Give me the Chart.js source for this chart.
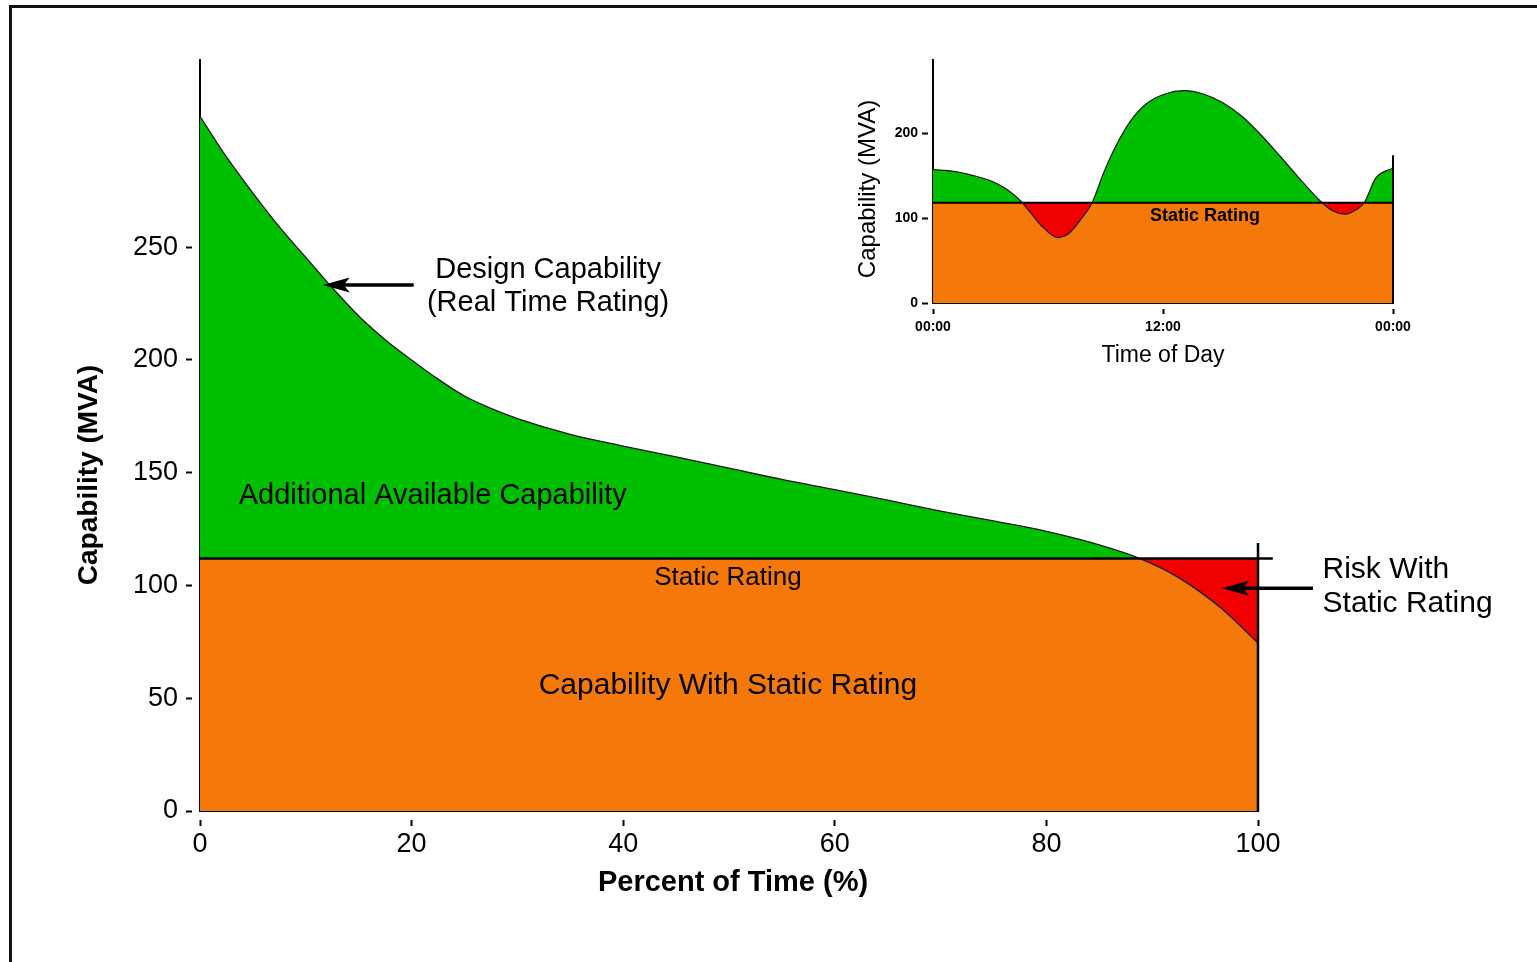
<!DOCTYPE html>
<html><head><meta charset="utf-8">
<script src="https://cdn.jsdelivr.net/npm/chart.js@4"></script>
<style>
html,body{margin:0;padding:0;background:#fff;}
#wrap{position:relative;width:1537px;height:962px;overflow:hidden;background:#fff;}
#frame{position:absolute;left:9px;top:5px;width:1600px;height:1000px;border-top:3px solid #111;border-left:3px solid #111;}
canvas{position:absolute;left:0;top:0;}
</style></head><body>
<div id="wrap"><div id="frame"></div>
<canvas id="main" width="1537" height="962"></canvas>
<canvas id="inset" width="1537" height="962"></canvas>
</div>
<script>
// ---------- main chart data ----------
const pctTime   = [0, 2.5, 5, 7.5, 10, 12.5, 15, 17.5, 20, 22.5, 25, 27.5, 30, 35, 40, 45, 50, 55, 60, 65, 70, 75, 80, 85, 88.8, 92.5, 96.5, 100];
const designCap = [308, 290, 274, 259, 245.5, 232, 219.5, 209, 200, 191.5, 184, 178.5, 174, 167, 161.8, 157, 152, 147, 142.5, 137.8, 133, 128.6, 124, 118, 112, 103.5, 90, 74.5];
const staticRating = 112;
const xTicks = [0, 20, 40, 60, 80, 100];
const yTicks = [0, 50, 100, 150, 200, 250];

// ---------- inset data ----------
const hourOfDay = [0, 1.1, 2.1, 3.1, 3.9, 4.6, 5.1, 5.7, 6.5, 7.1, 7.7, 8.3, 8.9, 9.5, 10.3, 11.1, 12.1, 13.1, 14.1, 15.1, 16.1, 17.1, 18.1, 19.1, 20.3, 20.9, 21.5, 22.1, 22.5, 23.1, 24];
const dailyCap  = [157, 155, 150, 143, 133, 119.5, 106, 90, 77, 82, 98, 118, 153, 183, 214, 234, 246, 250, 246, 236, 220, 198, 173, 147, 118, 108, 104.5, 110, 118, 147, 159];
const insetStatic = 118;
const timeTicks = [0, 12, 24];
const timeLabels = ['00:00', '12:00', '00:00'];
const insetYTicks = [0, 100, 200];

const FAM = "'Liberation Sans', Arial, Helvetica, sans-serif";
const GREEN = '#00be00', ORANGE = '#f5780a', RED = '#f00000';

function pts(xs, ys) { return xs.map((x, i) => ({x: x, y: ys[i]})); }

function text(ctx, str, x, y, font, align) {
  ctx.save();
  ctx.font = font; ctx.fillStyle = '#000';
  ctx.textAlign = align || 'center'; ctx.textBaseline = 'middle';
  ctx.fillText(str, x, y);
  ctx.restore();
}
function vtext(ctx, str, x, y, font) {
  ctx.save();
  ctx.translate(x, y); ctx.rotate(-Math.PI / 2);
  ctx.font = font; ctx.fillStyle = '#000';
  ctx.textAlign = 'center'; ctx.textBaseline = 'middle';
  ctx.fillText(str, 0, 0);
  ctx.restore();
}
function arrowLeft(ctx, tailX, tipX, y) {
  ctx.save();
  ctx.strokeStyle = '#000'; ctx.fillStyle = '#000'; ctx.lineWidth = 3.5;
  ctx.beginPath(); ctx.moveTo(tailX, y); ctx.lineTo(tipX + 18, y); ctx.stroke();
  ctx.beginPath();
  ctx.moveTo(tipX, y);
  ctx.lineTo(tipX + 27, y - 7.5);
  ctx.lineTo(tipX + 21, y);
  ctx.lineTo(tipX + 27, y + 7.5);
  ctx.closePath(); ctx.fill();
  ctx.restore();
}

function makeTicks(arr) { return s => { s.ticks = arr.map(v => ({value: v})); }; }

const mainNotes = {
  id: 'mainNotes',
  afterDatasetsDraw(chart) {
    const ctx = chart.ctx, xs = chart.scales.x, ys = chart.scales.y;
    const X = v => xs.getPixelForValue(v), Y = v => ys.getPixelForValue(v);
    const f = '29px ' + FAM;
    text(ctx, 'Design Capability', X(32.9), Y(239.8), f);
    text(ctx, '(Real Time Rating)', X(32.9), Y(225.2), f);
    arrowLeft(ctx, X(20.2), X(11.6), Y(233.2));
    text(ctx, 'Additional Available Capability', X(22.0), Y(139.6), f);
    text(ctx, 'Static Rating', X(49.9), Y(103.3), '26px ' + FAM);
    text(ctx, 'Capability With Static Rating', X(49.9), Y(55.4), '30px ' + FAM);
    text(ctx, 'Risk With', X(106.1), Y(106.8), '30px ' + FAM, 'left');
    text(ctx, 'Static Rating', X(106.1), Y(91.8), '30px ' + FAM, 'left');
    arrowLeft(ctx, X(105.2), X(96.6), Y(98.8));
    const ca = chart.chartArea;
    vtext(ctx, 'Capability (MVA)', ca.left - 111, 475, 'bold 28px ' + FAM);
    text(ctx, 'Percent of Time (%)', (ca.left + ca.right) / 2 + 4, 883, 'bold 29px ' + FAM);
  }
};

new Chart(document.getElementById('main'), {
  type: 'line',
  data: {
    datasets: [
      {label: 'Capability With Static Rating', data: pts(pctTime, designCap), fill: 'origin',
       backgroundColor: ORANGE, borderWidth: 0, pointRadius: 0, order: 3},
      {label: 'Design Capability', data: pts(pctTime, designCap),
       fill: {target: {value: staticRating}, above: GREEN, below: RED},
       borderColor: '#1a1a1a', borderWidth: 1.3, pointRadius: 0, order: 2},
      {label: 'Static Rating', data: pts([0, 101.4], [staticRating, staticRating]), fill: false,
       borderColor: '#000', borderWidth: 2.5, pointRadius: 0, clip: false, order: 1},
      {label: 'edge', data: pts([100, 100], [0, 118.8]), fill: false,
       borderColor: '#000', borderWidth: 2.5, pointRadius: 0, clip: false, order: 0}
    ]
  },
  options: {
    responsive: false, animation: false,
    layout: {padding: {left: 0, top: 60, right: 279, bottom: 0}},
    plugins: {legend: {display: false}, tooltip: {enabled: false}},
    elements: {line: {cubicInterpolationMode: 'monotone'}},
    scales: {
      x: {type: 'linear', min: 0, max: 100, afterBuildTicks: makeTicks(xTicks), afterFit: s => { s.height = 151; },
          ticks: {font: {family: FAM, size: 27}, color: '#000', padding: 2, maxRotation: 0, autoSkip: false},
          grid: {drawOnChartArea: false, tickLength: 15, tickWidth: 2, tickColor: '#000', tickBorderDash: [0, 8, 7, 100]},
          border: {display: true, color: '#000', width: 2}},
      y: {type: 'linear', min: 0, max: 333, afterBuildTicks: makeTicks(yTicks), afterFit: s => { s.width = 200; },
          ticks: {font: {family: FAM, size: 27}, color: '#000', padding: 8, autoSkip: false},
          grid: {drawOnChartArea: false, tickLength: 14, tickWidth: 2, tickColor: '#000', tickBorderDash: [6, 8]},
          border: {display: true, color: '#000', width: 2}}
    }
  },
  plugins: [mainNotes]
});

// ---------- inset ----------
const insetNotes = {
  id: 'insetNotes',
  afterDatasetsDraw(chart) {
    const ctx = chart.ctx, xs = chart.scales.x, ys = chart.scales.y;
    text(ctx, 'Static Rating', xs.getPixelForValue(14.19), ys.getPixelForValue(102), 'bold 18px ' + FAM);
    const ca = chart.chartArea;
    vtext(ctx, 'Capability (MVA)', ca.left - 65, 189, '24px ' + FAM);
    text(ctx, 'Time of Day', (ca.left + ca.right) / 2, 356, '23px ' + FAM);
  }
};

new Chart(document.getElementById('inset'), {
  type: 'line',
  data: {
    datasets: [
      {label: 'base', data: pts(hourOfDay, dailyCap), fill: 'origin', backgroundColor: ORANGE,
       borderWidth: 0, pointRadius: 0, order: 3},
      {label: 'Capability', data: pts(hourOfDay, dailyCap),
       fill: {target: {value: insetStatic}, above: GREEN, below: RED},
       borderColor: '#1a1a1a', borderWidth: 1.2, pointRadius: 0, order: 2},
      {label: 'Static Rating', data: pts([0, 24], [insetStatic, insetStatic]), fill: false,
       borderColor: '#000', borderWidth: 2, pointRadius: 0, clip: false, order: 1},
      {label: 'edge', data: pts([24, 24], [0, 174]), fill: false,
       borderColor: '#000', borderWidth: 2, pointRadius: 0, clip: false, order: 0}
    ]
  },
  options: {
    responsive: false, animation: false,
    layout: {padding: {left: 853, top: 60, right: 144, bottom: 589}},
    plugins: {legend: {display: false}, tooltip: {enabled: false}},
    elements: {line: {cubicInterpolationMode: 'monotone'}},
    scales: {
      x: {type: 'linear', min: 0, max: 24, afterBuildTicks: makeTicks(timeTicks), afterFit: s => { s.height = 70; },
          ticks: {font: {family: FAM, size: 14, weight: 'bold'}, color: '#000', padding: 5, maxRotation: 0, autoSkip: false,
                  callback: v => timeLabels[timeTicks.indexOf(v)]},
          grid: {drawOnChartArea: false, tickLength: 11, tickWidth: 2, tickColor: '#000', tickBorderDash: [0, 5, 6, 100]},
          border: {display: true, color: '#000', width: 2}},
      y: {type: 'linear', min: 0, max: 286, afterBuildTicks: makeTicks(insetYTicks), afterFit: s => { s.width = 80; },
          ticks: {font: {family: FAM, size: 14, weight: 'bold'}, color: '#000', padding: 4, autoSkip: false},
          grid: {drawOnChartArea: false, tickLength: 11, tickWidth: 2, tickColor: '#000', tickBorderDash: [6, 5]},
          border: {display: true, color: '#000', width: 2}}
    }
  },
  plugins: [insetNotes]
});
</script>
</body></html>
